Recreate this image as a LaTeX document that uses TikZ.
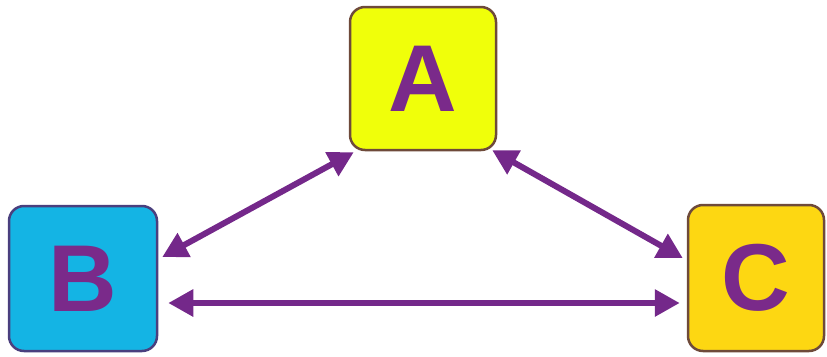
\documentclass[tikz,border=0pt]{standalone}
\usepackage{fontspec}
\setmainfont{Liberation Sans}
\usetikzlibrary{arrows.meta,calc}
\definecolor{letterpurple}{HTML}{7A2A8A}
\definecolor{arrowpurple}{HTML}{74288A}
\definecolor{yellowA}{HTML}{F0FF0A}
\definecolor{cyanB}{HTML}{14B4E4}
\definecolor{goldC}{HTML}{FDD712}
\definecolor{brownedge}{HTML}{6E4A3A}
\definecolor{blueedge}{HTML}{4A3F7E}
\tikzset{
  letterbox/.style={rounded corners=15pt, line width=2.5pt, inner sep=0pt,
    font=\fontsize{95}{95}\selectfont\bfseries, text=letterpurple},
  link/.style={draw=arrowpurple, line width=6pt,
    {Triangle[length=25pt,width=26pt]}-{Triangle[length=25pt,width=26pt]}}
}
\begin{document}
\begin{tikzpicture}[x=1pt,y=-1pt]
  \useasboundingbox (0,0) rectangle (827,356);
  \node[letterbox, draw=brownedge, fill=yellowA, minimum width=146pt, minimum height=143pt] (A) at (423,78.5) {A};
  \node[letterbox, draw=blueedge, fill=cyanB, minimum width=148pt, minimum height=145pt] (B) at (83,278.5) {B};
  \node[letterbox, draw=brownedge, fill=goldC, minimum width=136pt, minimum height=146pt] (C) at (756,278) {C};
  \draw[link] ($(B.east)+(4,-21.5)$) -- ($(A.south west)+(5,1)$);
  \draw[link] ($(A.south east)+(-5,-1)$) -- ($(C.west)+(-4,-20)$);
  \draw[link] ($(B.east)+(10,24.5)$) -- ($(C.west)+(-7,25)$);
\end{tikzpicture}
\end{document}
